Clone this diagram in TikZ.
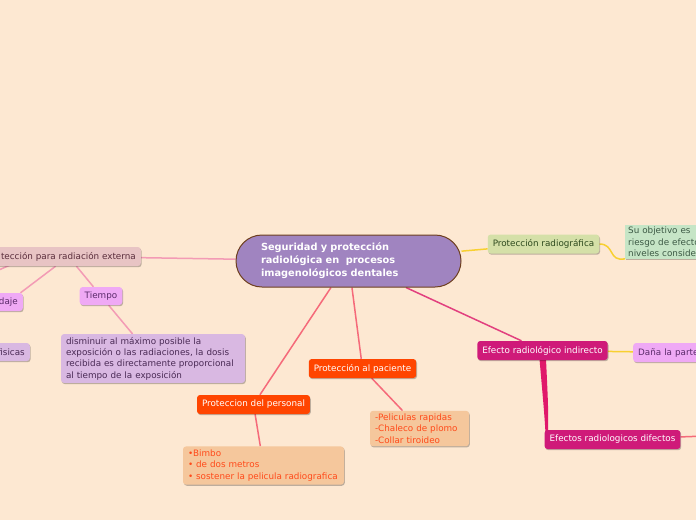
\documentclass[tikz,border=0pt]{standalone}
\usepackage{fontspec}
\setmainfont{DejaVu Sans}
\usetikzlibrary{calc,shadows,backgrounds}
\definecolor{bgc}{HTML}{FDE8D2}
\definecolor{cfill}{HTML}{A084C0}
\definecolor{cbord}{HTML}{6E3F1F}
\definecolor{prfill}{HTML}{D5E0A8}
\definecolor{prtext}{HTML}{2E4A1E}
\definecolor{objfill}{HTML}{C6E5C6}
\definecolor{objtext}{HTML}{3D5A45}
\definecolor{magfill}{HTML}{CF1A79}
\definecolor{vfill}{HTML}{EFA9F5}
\definecolor{vtext}{HTML}{5A2A6A}
\definecolor{orfill}{HTML}{FF4500}
\definecolor{pfill}{HTML}{F5C79C}
\definecolor{ptext}{HTML}{FF4A1A}
\definecolor{extfill}{HTML}{E8C4C4}
\definecolor{exttext}{HTML}{5A2D3C}
\definecolor{lfill}{HTML}{D9B8E2}
\definecolor{ltext}{HTML}{4A2A55}
\definecolor{pinkline}{HTML}{F39BB5}
\definecolor{redline}{HTML}{F56A7A}
\definecolor{magline}{HTML}{E2407F}
\definecolor{thickmag}{HTML}{E0186A}
\definecolor{yelline}{HTML}{F8D030}
\begin{document}
\begin{tikzpicture}[x=1pt,y=-1pt,
  every node/.style={font=\fontsize{8.8}{11.3}\selectfont},
  box/.style={rounded corners=3pt, inner xsep=5pt, inner ysep=0pt, minimum height=19pt,
    drop shadow={shadow xshift=0.8pt, shadow yshift=-1.2pt, opacity=0.25, fill=black}},
  conn/.style={line width=1.5pt},
  multibox/.style={box, align=left, inner xsep=5pt, inner ysep=3pt}
]
\begin{scope}[on background layer]
\fill[bgc] (0,0) rectangle (696,520);
\end{scope}
\useasboundingbox (0,0) rectangle (696,520);

% central
\node[draw=cbord, line width=1pt, fill=cfill, rounded corners=26pt, minimum width=225pt,
  minimum height=52pt, text width=175pt, align=left, text=white, inner sep=0pt,
  font=\bfseries\fontsize{9.8}{13}\selectfont] (c) at (348.5,261)
  {Seguridad y protección\\radiológica en \ procesos\\imagenológicos dentales};

% right side
\node[box, fill=prfill, text=prtext] (pr) at (543.5,244) {Protección radiográfica};
\node[box, fill=objfill, text=objtext, anchor=north west, text width=110pt, align=left,
  inner xsep=3pt, inner ysep=2pt, rounded corners=0pt] (obj) at (625,225)
  {Su objetivo es\\riesgo de efecto\\niveles conside};
\node[box, fill=magfill, text=white] (ind) at (542.5,350.5) {Efecto radiológico indirecto};
\node[box, fill=vfill, text=vtext, anchor=west, text width=90pt, align=left] (dana) at (633,352.5) {Daña la parte};
\node[box, fill=magfill, text=white] (dir) at (612.5,439.5) {Efectos radiologicos difectos};
\coordinate (rr) at (705,436);

% bottom
\node[box, fill=orfill, text=white] (pac) at (362.5,368.5) {Protección al paciente};
\node[multibox, fill=pfill, text=ptext, text width=89pt] (pel) at (419.5,428.5)
  {-Peliculas rapidas\\-Chaleco de plomo\\-Collar tiroideo};
\node[box, fill=orfill, text=white] (per) at (253.5,404.5) {Proteccion del personal};
\node[multibox, fill=pfill, text=ptext, text width=151pt, inner ysep=3.5pt] (bim) at (263.5,465.5)
  {•Bimbo\\• de dos metros\\• sostener la pelicula radiografica};

% left side
\node[box, fill=extfill, text=exttext, anchor=east] (ext) at (141,256.5) {tección para radiación externa};
\node[box, fill=vfill, text=vtext, minimum height=18pt] (tie) at (101,296) {Tiempo};
\node[multibox, fill=lfill, text=ltext, text width=174pt] (dis) at (153,358.5)
  {disminuir al máximo posible la\\exposición o las radiaciones, la dosis\\recibida es directamente proporcional\\al tiempo de la exposición};
\node[box, fill=vfill, text=vtext, anchor=east, minimum height=18pt] (bli) at (23,302) {daje};
\node[box, fill=lfill, text=ltext, anchor=east, minimum height=18pt] (fis) at (30,352) {fisicas};
\coordinate (ls) at ($(ext.south east)+(-129,-2)$);
\coordinate (lsend) at (-8,273);

\begin{scope}[on background layer]
  \draw[conn, yelline] (c) -- (pr);
  \draw[conn, yelline] (pr.east) .. controls (615,244) and (608,262) .. (obj.south west);
  \draw[conn, magline] (c) -- (ind);
  \draw[conn, yelline] (ind) -- (dana);
  \fill[thickmag] ($(ind.south)+(-3,-1)$) -- ($(ind.south)+(3.5,-1)$)
     .. controls ($(dir.west)+(4,-30)$) .. ($(dir.west)+(3.5,0)$) -- ($(dir.west)+(1.5,0)$)
     .. controls ($(dir.west)+(0,-25)$) .. cycle;
  \draw[conn, redline] (dir) -- (rr);
  \draw[conn, redline] (c) -- (pac);
  \draw[conn, redline] (pac) -- (pel);
  \draw[conn, redline] (c) -- (per);
  \draw[conn, redline] (per) -- (bim);
  \draw[conn, pinkline] (c) -- (ext);
  \draw[conn, pinkline] (ext) -- (tie);
  \draw[conn, pinkline] (tie) -- (dis);
  \draw[conn, pinkline] (ext) -- (bli);
  \draw[conn, pinkline] (ls) -- (lsend);
\end{scope}
\end{tikzpicture}
\end{document}
